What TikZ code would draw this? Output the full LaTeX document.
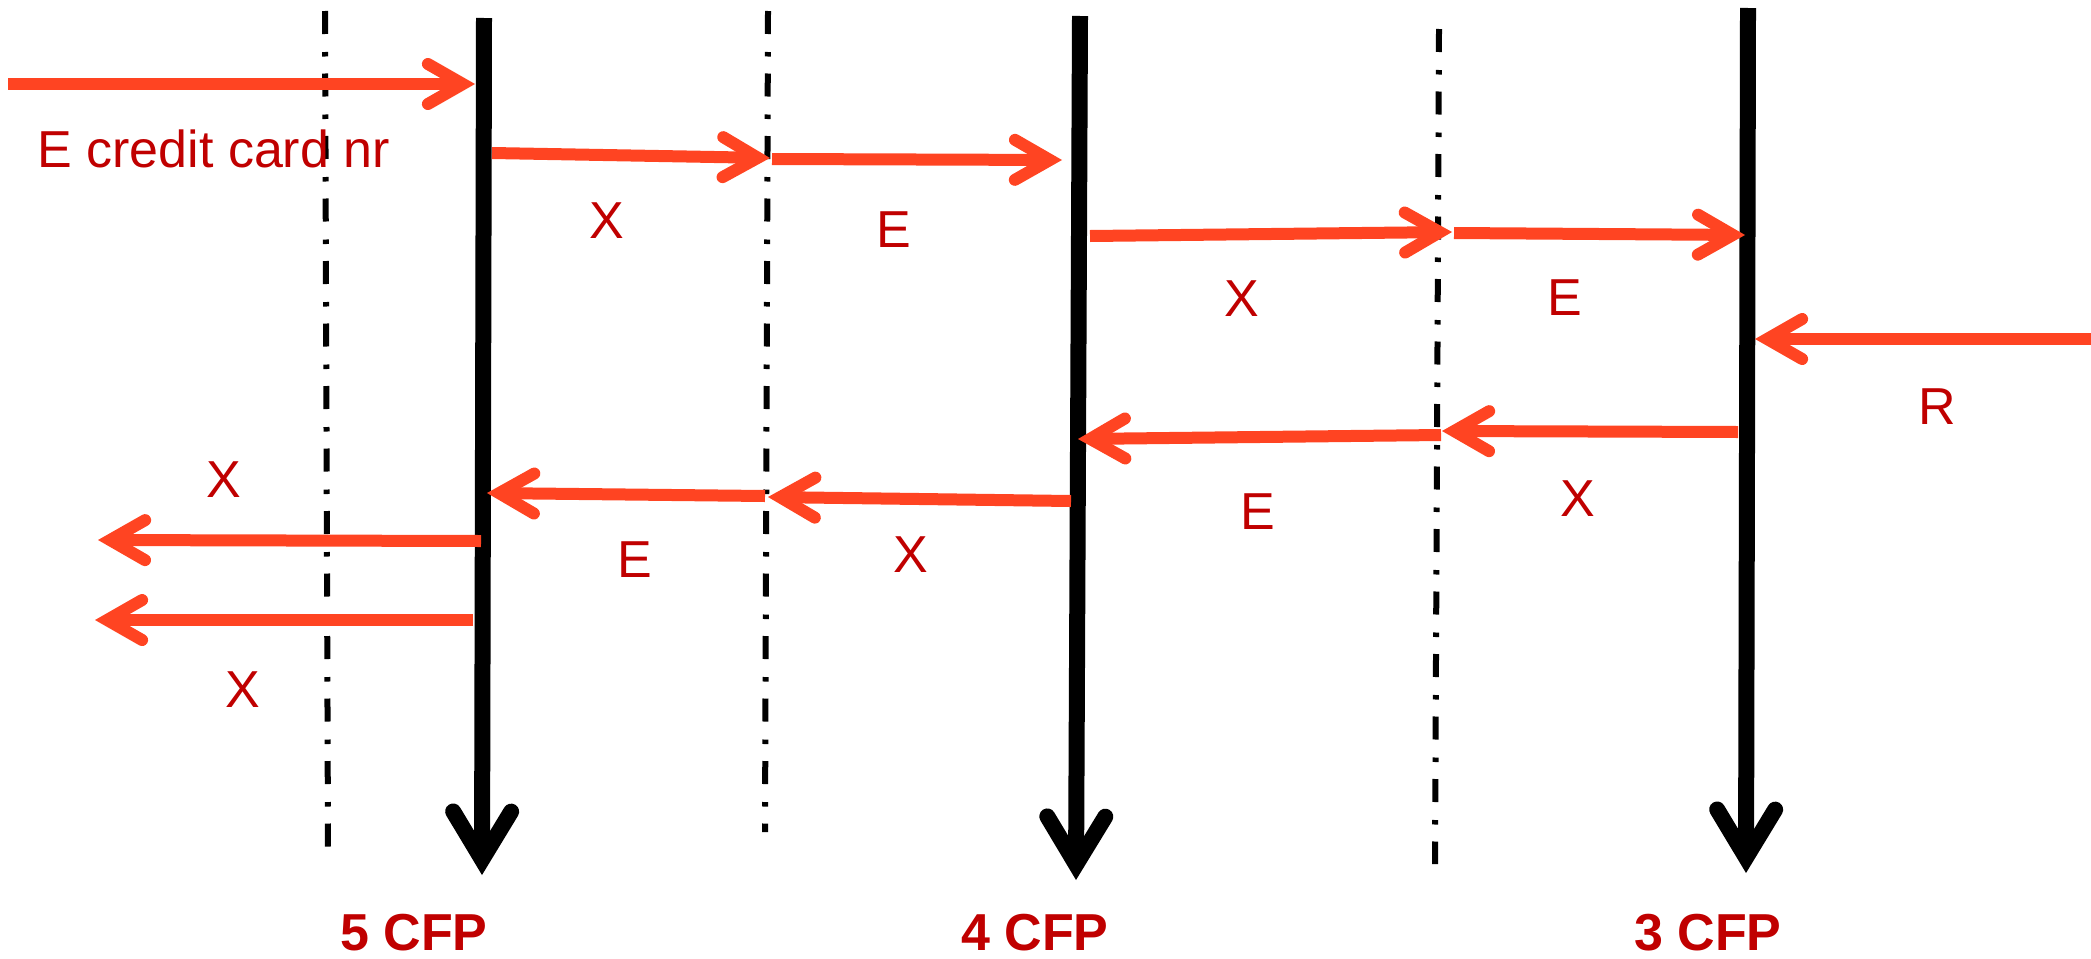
\documentclass[tikz,border=0pt]{standalone}
\usepackage{fontspec}
\setmainfont{Liberation Sans}
\usetikzlibrary{arrows.meta}
\definecolor{arrred}{HTML}{FF4422}
\definecolor{txtred}{HTML}{C00000}
\tikzset{
 msg/.style={draw=arrred, line width=6pt, -{Straight Barb[length=17.5pt,width=20pt,line cap=round,line join=miter]}},
 life/.style={draw=black, line width=8pt, -{Straight Barb[length=24pt,width=29pt,line cap=round,line join=miter]}},
 sep/.style={draw=black, line width=3pt, dash pattern=on 11.5pt off 9pt on 2.25pt off 8.5pt},
 lbl/.style={text=txtred, font=\fontsize{26}{30}\selectfont, inner sep=0pt, anchor=base},
 cfp/.style={text=txtred, font=\bfseries\fontsize{26}{30}\selectfont, inner sep=0pt, anchor=base},
}
\begin{document}
\begin{tikzpicture}[x=0.5pt,y=-0.5pt]
\useasboundingbox (0,0) rectangle (2091,958);
% separators
\coordinate (s1t) at (325,11);  \coordinate (s1b) at (328,848);
\coordinate (s2t) at (768,11);  \coordinate (s2b) at (765,832);
\coordinate (s3t) at (1439,29); \coordinate (s3b) at (1435,864);
\draw[sep] (s1t) -- (s1b);
\draw[sep] (s2t) -- (s2b);
\draw[sep] (s3t) -- (s3b);
% lifelines
\coordinate (l1t) at (484,18);  \coordinate (l1b) at (482,875);
\coordinate (l2t) at (1080,16); \coordinate (l2b) at (1076,880);
\coordinate (l3t) at (1748,8);  \coordinate (l3b) at (1746,873);
\draw[life] (l1t) -- (l1b);
\draw[life] (l2t) -- (l2b);
\draw[life] (l3t) -- (l3b);
% messages
\coordinate (m1s) at (8,84);     \coordinate (m1e) at (475,84);
\coordinate (m2s) at (492,153);  \coordinate (m2e) at (770,158);
\coordinate (m3s) at (772,159);  \coordinate (m3e) at (1062,160);
\coordinate (m4s) at (1090,236); \coordinate (m4e) at (1452,232);
\coordinate (m5s) at (1454,233); \coordinate (m5e) at (1745,235);
\coordinate (m6s) at (2091,339); \coordinate (m6e) at (1755,339);
\coordinate (m7s) at (1738,432); \coordinate (m7e) at (1442,431);
\coordinate (m8s) at (1441,435); \coordinate (m8e) at (1078,439);
\coordinate (m9s) at (1071,501); \coordinate (m9e) at (768,497);
\coordinate (m10s) at (765,496); \coordinate (m10e) at (487,493);
\coordinate (m11s) at (481,541); \coordinate (m11e) at (98,540);
\coordinate (m12s) at (473,620); \coordinate (m12e) at (95,620);
\foreach \i in {1,...,12} {\draw[msg] (m\i s) -- (m\i e);}
% labels
\node[lbl, anchor=base west] (t1) at (37,167) {E credit card nr};
\node[lbl] (t2) at (607,238) {X};
\node[lbl] (t3) at (894,247) {E};
\node[lbl] (t4) at (1242,316) {X};
\node[lbl] (t5) at (1565,315) {E};
\node[lbl] (t6) at (1937,424) {R};
\node[lbl] (t7) at (1578,516) {X};
\node[lbl] (t8) at (1258,529) {E};
\node[lbl] (t9) at (911,572) {X};
\node[lbl] (t10) at (635,577) {E};
\node[lbl] (t11) at (224,497) {X};
\node[lbl] (t12) at (243,707) {X};
\node[cfp] (c5) at (414,950) {5 CFP};
\node[cfp] (c4) at (1035,950) {4 CFP};
\node[cfp] (c3) at (1708,950) {3 CFP};
\end{tikzpicture}
\end{document}
